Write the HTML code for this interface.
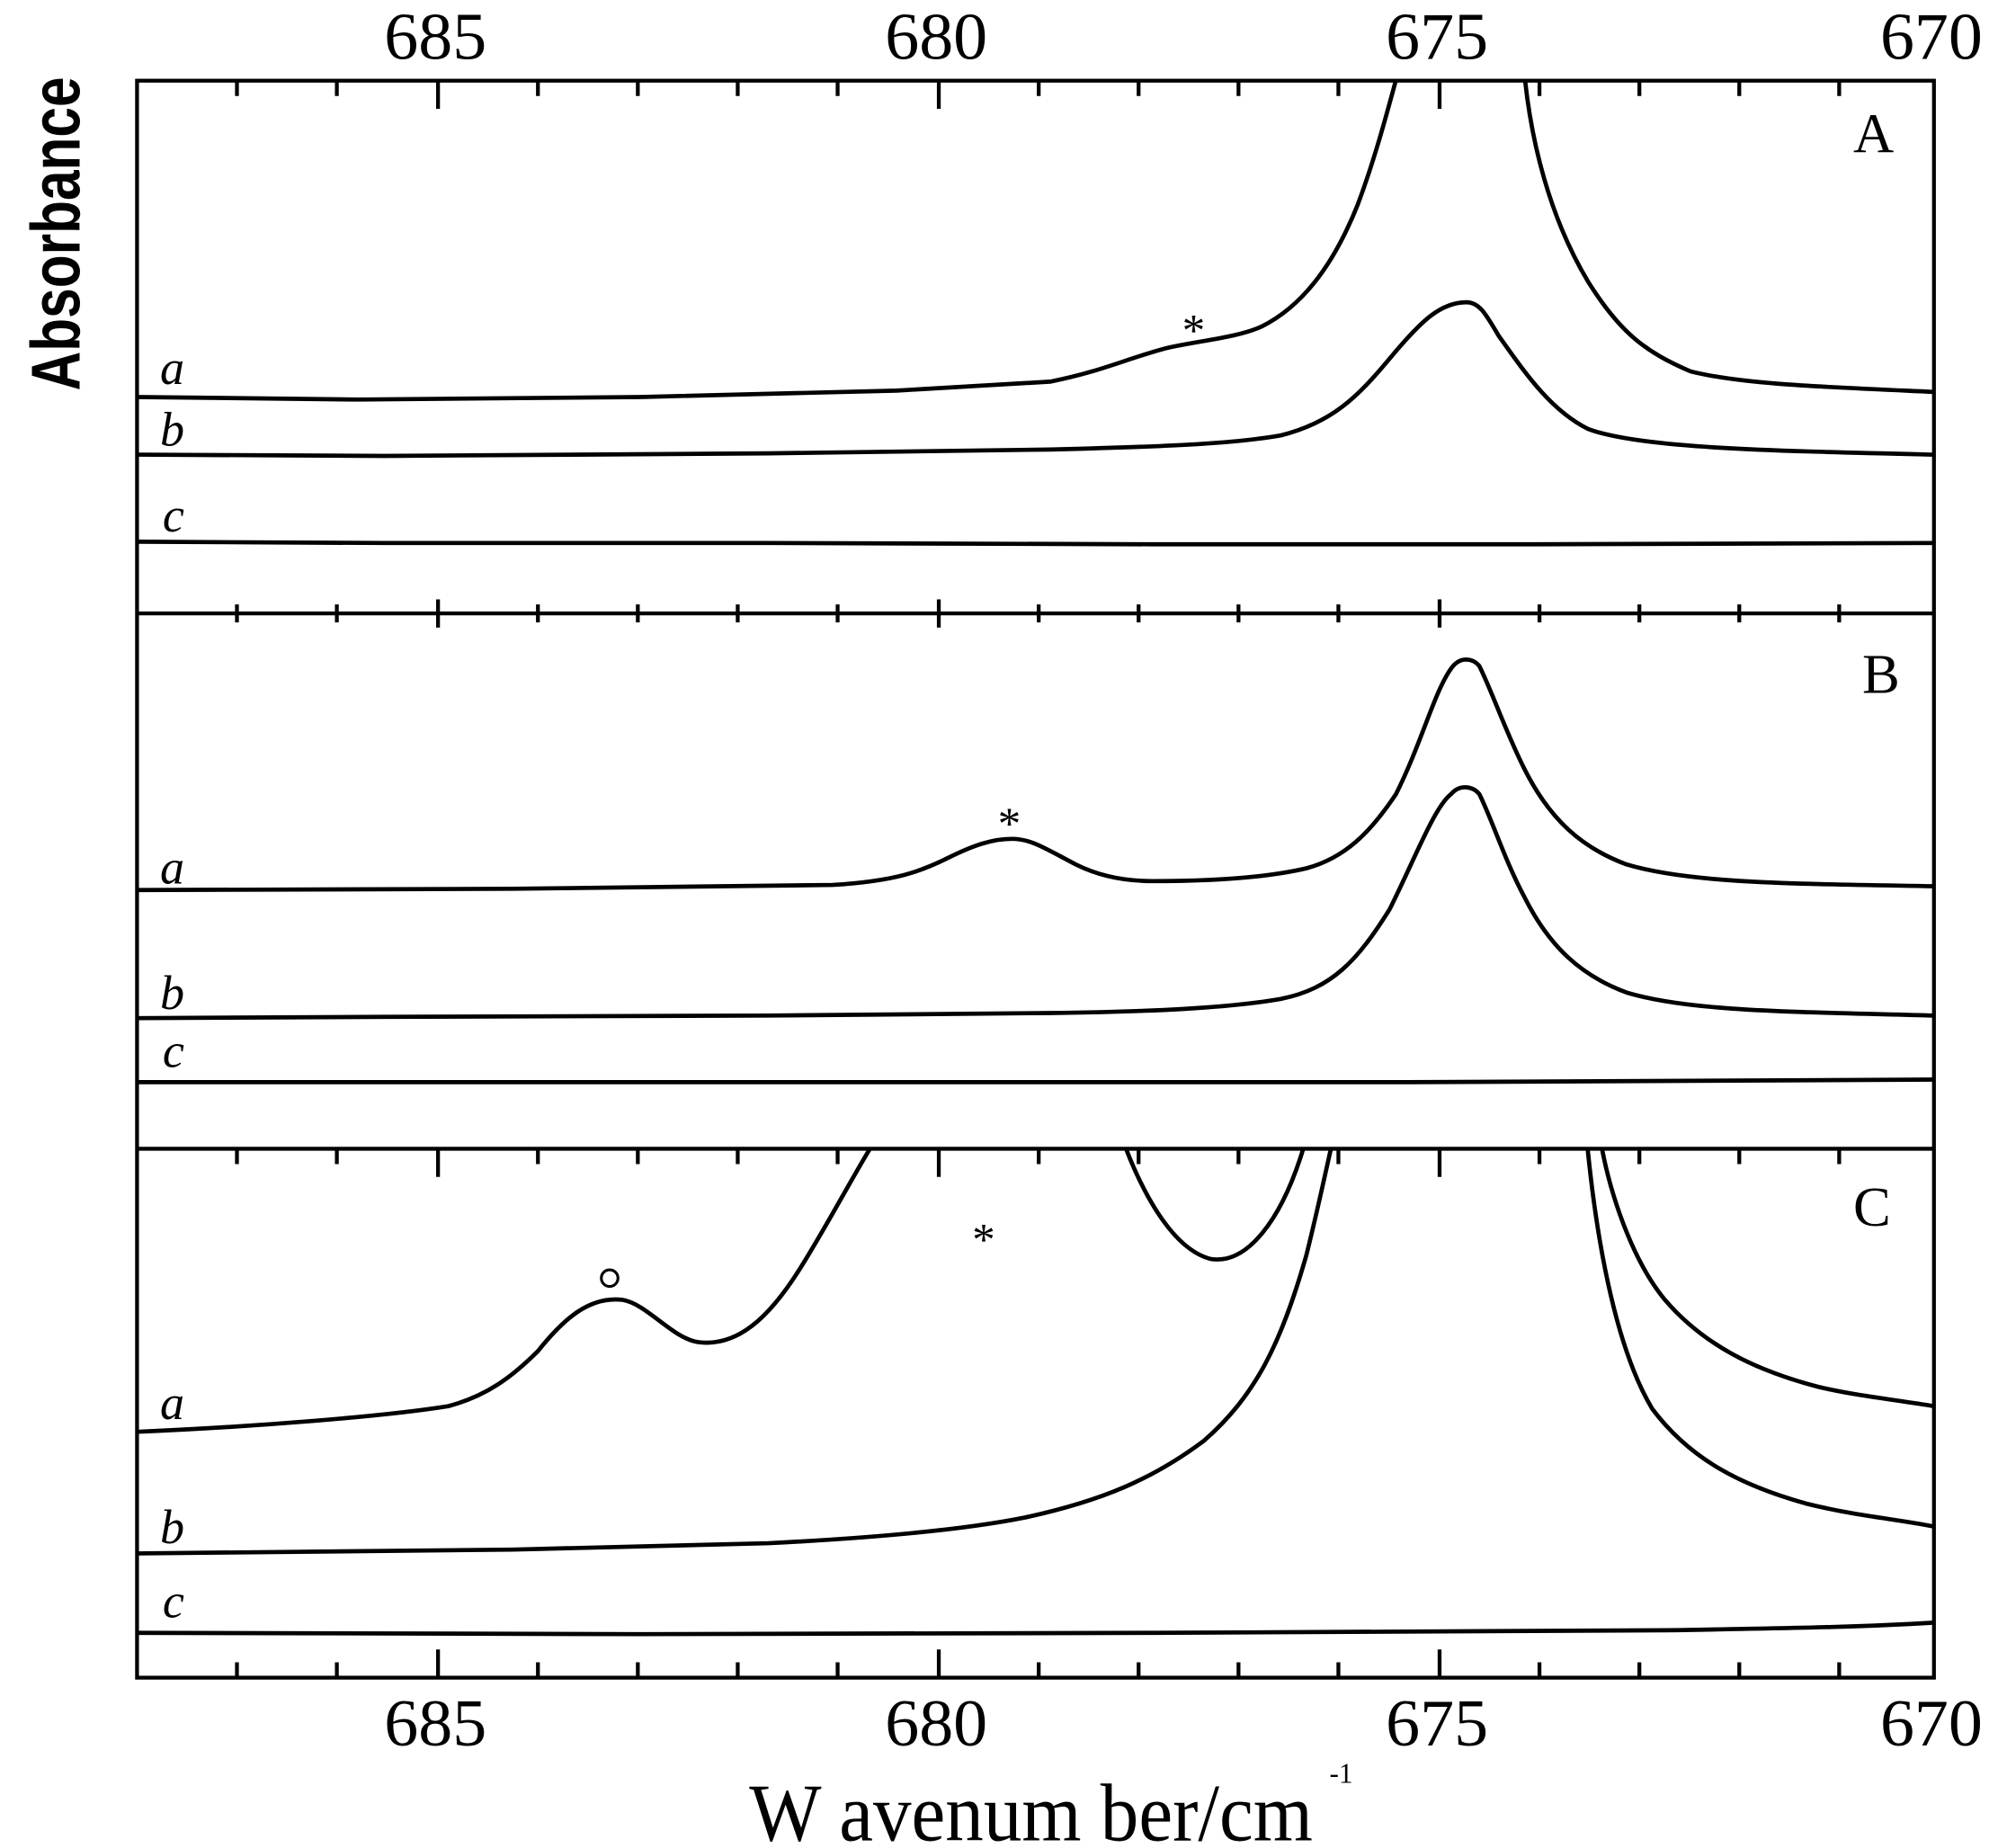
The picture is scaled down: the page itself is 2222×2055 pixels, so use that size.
<!DOCTYPE html>
<html><head><meta charset="utf-8"><style>
html,body{margin:0;padding:0;background:#fff;}
svg{display:block;}
text{font-family:"Liberation Serif",serif;fill:#000;}
</style></head><body>
<svg width="2222" height="2055" viewBox="0 0 1560 1443" preserveAspectRatio="none" xmlns="http://www.w3.org/2000/svg">
<defs>
<clipPath id="cA"><rect x="107" y="63" width="1403" height="416"/></clipPath>
<clipPath id="cB"><rect x="107" y="479" width="1403" height="418"/></clipPath>
<clipPath id="cC"><rect x="107" y="897" width="1403" height="413"/></clipPath>
</defs>
<g fill="none" stroke="#000" stroke-width="3">
<rect x="107" y="63" width="1403" height="1247"/>
<line x1="107" y1="479" x2="1510" y2="479"/>
<line x1="107" y1="897" x2="1510" y2="897"/>
<path d="M185 63v12M263 63v12M342 63v22M420 63v12M498 63v12M576 63v12M654 63v12M733 63v22M811 63v12M889 63v12M967 63v12M1045 63v12M1124 63v22M1202 63v12M1280 63v12M1358 63v12M1436 63v12"/>
<path d="M185 472v14M263 472v14M342 468v22M420 472v14M498 472v14M576 472v14M654 472v14M733 468v22M811 472v14M889 472v14M967 472v14M1045 472v14M1124 468v22M1202 472v14M1280 472v14M1358 472v14M1436 472v14"/>
<path d="M185 897v12M263 897v12M342 897v22M420 897v12M498 897v12M576 897v12M654 897v12M733 897v22M811 897v12M889 897v12M967 897v12M1045 897v12M1124 897v22M1202 897v12M1280 897v12M1358 897v12M1436 897v12"/>
<path d="M185 1310v-12M263 1310v-12M342 1310v-22M420 1310v-12M498 1310v-12M576 1310v-12M654 1310v-12M733 1310v-22M811 1310v-12M889 1310v-12M967 1310v-12M1045 1310v-12M1124 1310v-22M1202 1310v-12M1280 1310v-12M1358 1310v-12M1436 1310v-12"/>
</g>
<g fill="none" stroke="#000" stroke-width="3.3" stroke-linejoin="round">
<g clip-path="url(#cA)">
<path d="M107 310 L280 312 L500 310 L700 305 L820 298 C860 290 880 280 910 272 C935 266 965 264 985 255 C1015 240 1040 210 1060 160 C1075 120 1085 80 1092 55"/>
<path d="M1190 55 C1195 110 1210 170 1240 220 C1265 260 1285 275 1320 290 C1360 300 1420 302 1510 306"/>
<path d="M107 355 L300 356 L600 354 L820 351 C900 349 960 347 1000 340 C1040 330 1060 310 1085 280 C1110 250 1125 236 1145 236 C1155 236 1160 245 1170 262 C1190 290 1210 320 1240 335 C1280 350 1380 352 1510 355"/>
<path d="M107 423 L300 424 L600 424 L900 425 L1200 425 L1510 424"/>
</g>
<g clip-path="url(#cB)">
<path d="M107 695 L400 694 L650 691 C700 688 720 680 740 670 C760 660 775 655 790 655 C805 655 815 662 840 675 C860 685 880 688 900 688 C950 688 990 685 1020 678 C1050 670 1070 650 1090 620 C1110 580 1120 540 1133 522 C1140 512 1150 514 1155 520 C1165 540 1175 570 1190 600 C1210 640 1235 662 1270 675 C1320 690 1400 690 1510 692"/>
<path d="M107 795 L300 794 L600 793 L820 791 C900 790 960 787 1000 780 C1040 772 1060 750 1085 710 C1105 670 1120 630 1133 620 C1140 612 1150 614 1155 620 C1165 640 1175 672 1190 700 C1210 740 1235 762 1270 775 C1320 790 1400 790 1510 793"/>
<path d="M107 845 L300 845 L700 845 L1100 845 L1510 843"/>
</g>
<g clip-path="url(#cC)">
<path d="M107 1118 C200 1114 300 1106 350 1098 C380 1090 400 1075 420 1055 C440 1030 460 1012 486 1015 C505 1018 525 1045 545 1048 C575 1052 600 1030 625 990 C650 950 670 910 690 880"/>
<path d="M873 880 C890 930 915 975 945 983 C975 988 1000 950 1015 905 C1020 890 1022 880 1024 870"/>
<path d="M1248 880 C1255 930 1275 985 1300 1015 C1330 1050 1370 1070 1420 1083 C1450 1090 1480 1093 1510 1098"/>
<path d="M107 1213 L400 1210 L600 1205 C700 1200 760 1193 800 1185 C860 1172 900 1155 940 1125 C980 1090 1000 1050 1020 980 C1030 940 1036 910 1043 880"/>
<path d="M1238 880 C1245 960 1260 1050 1290 1100 C1320 1140 1360 1160 1410 1174 C1450 1184 1480 1186 1510 1192"/>
<path d="M107 1275 L500 1276 L900 1275 L1300 1273 C1420 1271 1460 1270 1510 1267"/>
</g>
<circle cx="476" cy="998" r="6.5" stroke-width="2.2"/>
</g>
<g font-size="38" font-style="italic">
<text x="125" y="300">a</text><text x="125" y="348">b</text><text x="127" y="415">c</text>
<text x="125" y="690">a</text><text x="125" y="788">b</text><text x="127" y="833">c</text>
<text x="125" y="1108">a</text><text x="125" y="1205">b</text><text x="127" y="1263">c</text>
</g>
<g font-size="36" text-anchor="middle">
<text x="932" y="270">*</text><text x="788" y="655">*</text><text x="768" y="980">*</text>
</g>
<g font-size="44">
<text x="1447" y="119">A</text><text x="1454" y="541">B</text><text x="1447" y="957">C</text>
</g>
<g font-size="52" text-anchor="middle">
<text x="340" y="46" textLength="80" lengthAdjust="spacingAndGlyphs">685</text>
<text x="731" y="46" textLength="80" lengthAdjust="spacingAndGlyphs">680</text>
<text x="1122" y="46" textLength="80" lengthAdjust="spacingAndGlyphs">675</text>
<text x="1508" y="46" textLength="80" lengthAdjust="spacingAndGlyphs">670</text>
<text x="340" y="1363" textLength="80" lengthAdjust="spacingAndGlyphs">685</text>
<text x="731" y="1363" textLength="80" lengthAdjust="spacingAndGlyphs">680</text>
<text x="1122" y="1363" textLength="80" lengthAdjust="spacingAndGlyphs">675</text>
<text x="1508" y="1363" textLength="80" lengthAdjust="spacingAndGlyphs">670</text>
</g>
<text x="585" y="1437" font-size="64" textLength="440" lengthAdjust="spacingAndGlyphs">W avenum ber/cm</text>
<text x="1038" y="1392" font-size="22">-1</text>
<text transform="translate(62,305) rotate(-90)" font-size="54" font-weight="bold" textLength="245" lengthAdjust="spacingAndGlyphs" style="font-family:'Liberation Sans',sans-serif">Absorbance</text>
</svg>
</body></html>
